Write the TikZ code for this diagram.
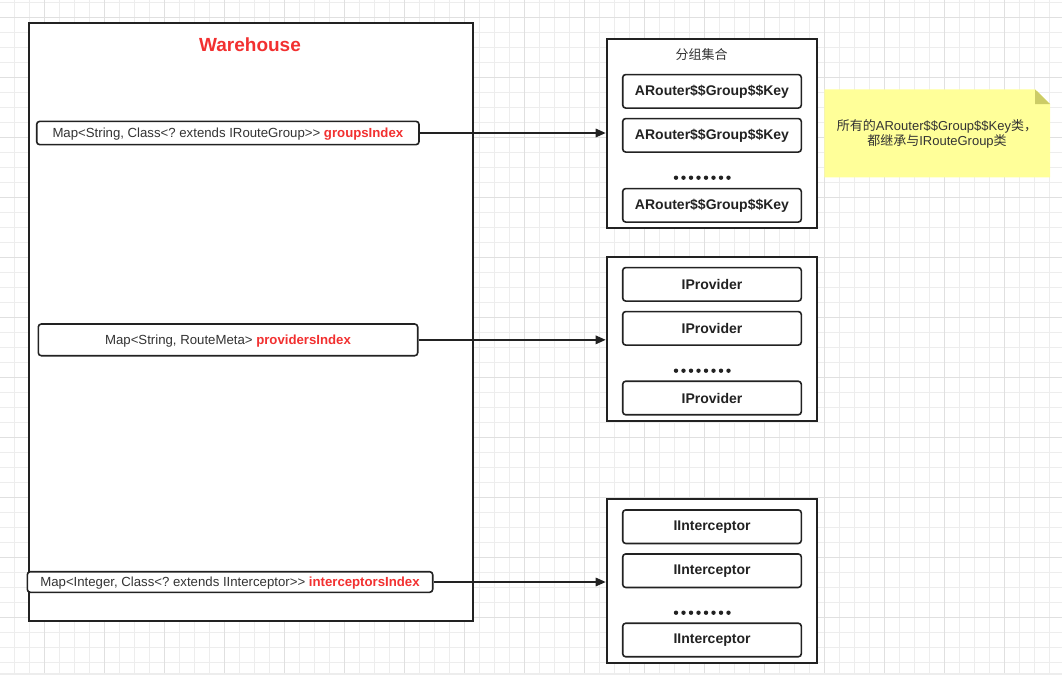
\documentclass[tikz,border=0pt]{standalone}
\usepackage{fontspec}
\setmainfont{Liberation Sans}
\newfontfamily\cjk{Noto Sans CJK SC}
\usetikzlibrary{arrows.meta}
\frenchspacing
\definecolor{ink}{HTML}{222222}
\definecolor{txt}{HTML}{333333}
\definecolor{hot}{HTML}{F23030}
\definecolor{minor}{HTML}{EDEDED}
\definecolor{major}{HTML}{E0E0E0}
\definecolor{memo}{HTML}{FFFF99}
\definecolor{memofold}{HTML}{CCCC66}
\tikzstyle{panel}=[draw=ink, line width=2pt, fill=white, inner sep=0pt]
\tikzstyle{field}=[draw=ink, line width=1.6pt, fill=white, rounded corners=3pt, text=txt, inner sep=0pt, text depth=0pt, font=\fontsize{13.2}{15}\selectfont]
\tikzstyle{item}=[draw=ink, line width=1.6pt, fill=white, rounded corners=3pt, text=ink, inner sep=0pt, minimum width=178.6pt, minimum height=33.5pt, font=\bfseries\fontsize{14}{16}\selectfont]
\tikzstyle{link}=[draw=ink, line width=1.6pt, -{Triangle[length=10pt,width=8.5pt]}]
\newcommand{\hotname}[1]{\textcolor{hot}{\bfseries #1}}

\begin{document}
\begin{tikzpicture}[x=1pt, y=-1pt]
  \useasboundingbox[fill=white] (0,0) rectangle (1062,675);
  \foreach \i in {0,...,70} \draw[minor, line width=1pt] (14.3+15*\i,0) -- ++(0,675);
  \foreach \i in {0,...,44} \draw[minor, line width=1pt] (0,2.7+15*\i) -- ++(1062,0);
  \foreach \i in {0,...,17} \draw[major, line width=1pt] (44.3+60*\i,0) -- ++(0,675);
  \foreach \i in {0,...,10} \draw[major, line width=1pt] (0,17.7+60*\i) -- ++(1062,0);
  \fill[minor] (0,672.5) rectangle (1062,675);

  \node[panel, minimum width=443.7pt, minimum height=598pt] (warehouse) at (250.85,321.7) {};
  \node[text=hot, font=\bfseries\fontsize{19}{22}\selectfont] (title) at (250,45) {Warehouse};
  \node[field, minimum width=382.3pt, minimum height=23.3pt] (groupsmap) at (227.85,133)
    {Map<String, Class<? extends IRouteGroup>{}> \hotname{groupsIndex}};
  \node[field, minimum width=379.4pt, minimum height=31.7pt] (providersmap) at (228,339.85)
    {Map<String, RouteMeta> \hotname{providersIndex}};
  \node[field, minimum width=405.4pt, minimum height=20.6pt] (interceptorsmap) at (230,582)
    {Map<Integer, Class<? extends IInterceptor>{}> \hotname{interceptorsIndex}};

  \node[panel, minimum width=210pt, minimum height=189.3pt] (groups) at (711.7,133.65) {};
  \node[panel, minimum width=210pt, minimum height=163.7pt] (providers) at (711.7,339.15) {};
  \node[panel, minimum width=210pt, minimum height=164pt] (interceptors) at (711.7,581.3) {};
  \node[text=txt, font=\cjk\fontsize{13}{15}\selectfont] (groupstitle) at (701.7,55) {分组集合};

  \foreach \y/\n in {91.3/1,135.3/2,205.3/3}
    \node[item] (group\n) at (712,\y) {ARouter\$\$Group\$\$Key};
  \foreach \y/\n in {284.3/1,328.3/2,398/3}
    \node[item] (provider\n) at (712,\y) {IProvider};
  \foreach \y/\n in {526.7/1,570.7/2,640/3}
    \node[item] (interceptor\n) at (712,\y) {IInterceptor};
  \foreach \y in {177.7,370.7,612.7}
    \foreach \i in {0,...,7}
      \fill[ink] (676+7.5*\i,\y) circle (2.2pt);

  \draw[link] (groupsmap.east) -- (groupsmap.east -| groups.west);
  \draw[link] (providersmap.east) -- (providersmap.east -| providers.west);
  \draw[link] (interceptorsmap.east) -- (interceptorsmap.east -| interceptors.west);

  \fill[memo] (824.3,89.3) -- (1035,89.3) -- (1050,104) -- (1050,177.3) -- (824.3,177.3) -- cycle;
  \fill[memofold] (1035,89.3) -- (1035,104) -- (1050,104) -- cycle;
  \node[align=center, text=txt, font=\fontsize{13}{15}\selectfont] (memo) at (937,134.2)
    {{\cjk 所有的}ARouter\$\$Group\$\$Key{\cjk 类，}\\{\cjk 都继承与}IRouteGroup{\cjk 类}};
\end{tikzpicture}
\end{document}
